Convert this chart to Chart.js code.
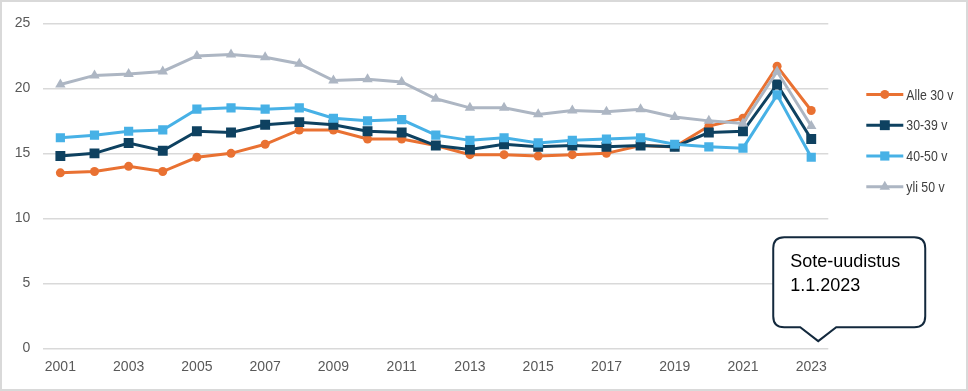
<!DOCTYPE html>
<html lang="fi">
<head>
<meta charset="UTF-8">
<title>Ikäryhmät 2001-2023</title>
<script src="https://cdn.jsdelivr.net/npm/chart.js"></script>
<style>
    html, body { margin: 0; padding: 0; background: #fff; }
    #wrap {
        width: 968px;
        height: 391px;
        box-sizing: border-box;
        border: 2px solid #d9d9d9;
        position: relative;
    }
    canvas { display: block; }
</style>
</head>
<body>
<div id="wrap"><canvas id="chart" width="964" height="387"></canvas></div>
<script>
    // Data
    const years = ['2001','2002','2003','2004','2005','2006','2007','2008','2009','2010','2011','2012',
                   '2013','2014','2015','2016','2017','2018','2019','2020','2021','2022','2023'];
    const alle30 = [13.5, 13.6, 14.0, 13.6, 14.7, 15.0, 15.7, 16.8, 16.8, 16.1, 16.1, 15.6,
                    14.9, 14.9, 14.8, 14.9, 15.0, 15.6, 15.5, 17.1, 17.7, 21.7, 18.3];
    const v30_39 = [14.8, 15.0, 15.8, 15.2, 16.7, 16.6, 17.2, 17.4, 17.2, 16.7, 16.6, 15.6,
                    15.3, 15.7, 15.5, 15.6, 15.5, 15.6, 15.5, 16.6, 16.7, 20.3, 16.1];
    const v40_50 = [16.2, 16.4, 16.7, 16.8, 18.4, 18.5, 18.4, 18.5, 17.7, 17.5, 17.6, 16.4,
                    16.0, 16.2, 15.8, 16.0, 16.1, 16.2, 15.7, 15.5, 15.4, 19.5, 14.7];
    const yli50 = [20.3, 21.0, 21.1, 21.3, 22.5, 22.6, 22.4, 21.9, 20.6, 20.7, 20.5, 19.2,
                   18.5, 18.5, 18.0, 18.3, 18.2, 18.4, 17.8, 17.5, 17.3, 21.3, 17.1];
    const yTicks = [0, 5, 10, 15, 20, 25];
    const seriesNames = ['Alle 30 v', '30-39 v', '40-50 v', 'yli 50 v'];
    const calloutLines = ['Sote-uudistus', '1.1.2023'];

    const tickFont = { family: "'Liberation Sans', Arial, sans-serif", size: 14 };

    function series(label, data, color, style, radius, order) {
        return {
            label: label,
            data: data,
            borderColor: color,
            backgroundColor: color,
            borderWidth: 3,
            pointStyle: style,
            pointRadius: radius,
            pointHoverRadius: radius,
            pointBorderWidth: 0,
            tension: 0,
            order: order
        };
    }

    // Legend drawn at the right: a short line with the marker in the middle
    const sideLegend = {
        id: 'sideLegend',
        afterDraw(chart) {
            const ctx = chart.ctx;
            const area = chart.chartArea;
            const x0 = area.right + 38;
            const x1 = x0 + 37;
            chart.data.datasets.forEach((ds, i) => {
                const y = area.top + 71 + i * 30.8;
                ctx.save();
                ctx.strokeStyle = ds.borderColor;
                ctx.lineWidth = 3;
                ctx.beginPath();
                ctx.moveTo(x0, y);
                ctx.lineTo(x1, y);
                ctx.stroke();
                ctx.fillStyle = ds.backgroundColor;
                Chart.helpers.drawPoint(ctx, { pointStyle: ds.pointStyle, radius: ds.pointRadius, borderWidth: 0 },
                    (x0 + x1) / 2, y);
                // the original uses a condensed face, squeeze the text a bit
                ctx.translate(x1 + 3, y + 1);
                ctx.scale(0.82, 1);
                ctx.fillStyle = '#404040';
                ctx.font = "15px 'Liberation Sans', Arial, sans-serif";
                ctx.textBaseline = 'middle';
                ctx.textAlign = 'left';
                ctx.fillText(ds.label, 0, 0);
                ctx.restore();
            });
        }
    };

    // Speech bubble pointing at the last year
    const callout = {
        id: 'callout',
        afterDraw(chart) {
            const ctx = chart.ctx;
            const xs = chart.scales.x, ys = chart.scales.y;
            const tx = xs.getPixelForValue(years.length - 1) + 7;
            const ty = ys.getPixelForValue(0.55);
            const l = tx - 45, r = tx + 107, t = ty - 104, b = ty - 14, rad = 11;
            ctx.save();
            ctx.beginPath();
            ctx.moveTo(l + rad, t);
            ctx.lineTo(r - rad, t);
            ctx.quadraticCurveTo(r, t, r, t + rad);
            ctx.lineTo(r, b - rad);
            ctx.quadraticCurveTo(r, b, r - rad, b);
            ctx.lineTo(tx + 18, b);
            ctx.lineTo(tx, ty);
            ctx.lineTo(tx - 18, b);
            ctx.lineTo(l + rad, b);
            ctx.quadraticCurveTo(l, b, l, b - rad);
            ctx.lineTo(l, t + rad);
            ctx.quadraticCurveTo(l, t, l + rad, t);
            ctx.closePath();
            ctx.fillStyle = '#ffffff';
            ctx.fill();
            ctx.strokeStyle = '#13293d';
            ctx.lineWidth = 2;
            ctx.stroke();
            ctx.fillStyle = '#000000';
            ctx.font = "18px 'Liberation Sans', Arial, sans-serif";
            ctx.textAlign = 'left';
            ctx.textBaseline = 'alphabetic';
            calloutLines.forEach((line, i) => ctx.fillText(line, l + 17, t + 30 + i * 24));
            ctx.restore();
        }
    };

    const ctx = document.getElementById('chart').getContext('2d');
    const chart = new Chart(ctx, {
        type: 'line',
        data: {
            labels: years,
            datasets: [
                series(seriesNames[0], alle30, '#e97132', 'circle', 4.5, 4),
                series(seriesNames[1], v30_39, '#0e4160', 'rect', 7, 3),
                series(seriesNames[2], v40_50, '#47b1e6', 'rect', 6.5, 2),
                series(seriesNames[3], yli50, '#adb6c3', 'triangle', 6, 1)
            ]
        },
        options: {
            responsive: false,
            animation: false,
            layout: { padding: { left: 0, right: 137.7, top: 18, bottom: 10.7 } },
            plugins: {
                legend: { display: false },
                tooltip: { enabled: false }
            },
            scales: {
                x: {
                    offset: true,
                    grid: { display: false, drawTicks: false },
                    border: { display: false },
                    ticks: {
                        autoSkip: false,
                        maxRotation: 0,
                        padding: 10,
                        color: '#595959',
                        font: tickFont,
                        callback: (v, i) => (i % 2 === 0 ? years[i] : '')
                    },
                    afterFit: s => { s.height = 30; }
                },
                y: {
                    min: 0,
                    max: 25,
                    afterBuildTicks: s => { s.ticks = yTicks.map(v => ({ value: v })); },
                    grid: { color: '#d9d9d9', lineWidth: 1.5, drawTicks: false },
                    border: { display: false },
                    ticks: { padding: 13, color: '#595959', font: tickFont },
                    afterFit: s => { s.width = 41.3; }
                }
            }
        },
        plugins: [sideLegend, callout]
    });
</script>
</body>
</html>
